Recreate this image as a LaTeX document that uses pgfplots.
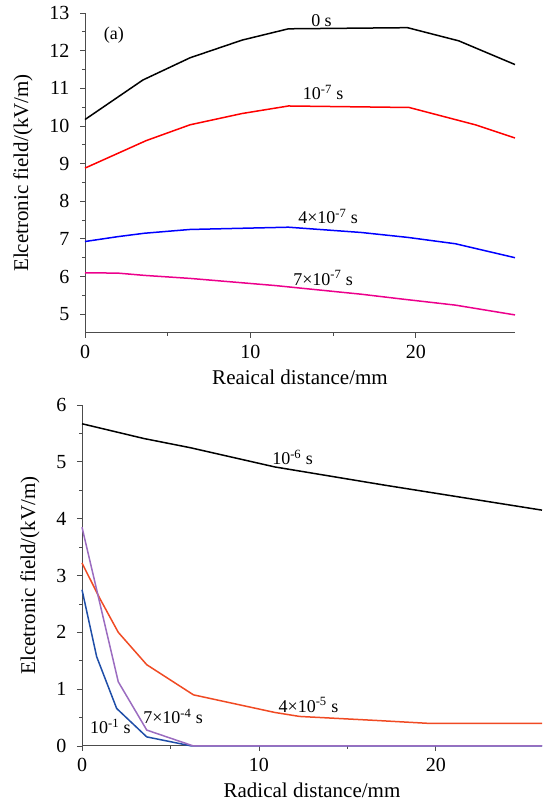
\documentclass[border=0pt]{standalone}
\usepackage{fontspec}
\setmainfont{Liberation Serif}
\usepackage{pgfplots}
\pgfplotsset{compat=1.18}
\definecolor{bred}{HTML}{F04A23}
\definecolor{bpur}{HTML}{9B6CC0}
\definecolor{bblu}{HTML}{1F4EA8}
\pgfplotsset{
  myax/.style={
    scale only axis,
    anchor=south west,
    axis lines*=left,
    axis line style={draw=black!70, line width=1pt},
    tick align=outside,
    tick style={draw=black!70, line width=0.8pt},
    major tick length=5pt,
    minor tick length=3pt,
    minor tick num=1,
    xmin=0, xmax=26,
    xtick={0,10,20},
    /pgf/number format/assume math mode=true,
    ticklabel style={font=\fontsize{20}{22}\selectfont},
    yticklabel style={xshift=-7pt},
    xticklabel style={yshift=-4pt},
    label style={font=\fontsize{21}{24}\selectfont},
    ylabel={Elcetronic field/(kV/m)},
    ylabel style={yshift=10pt},
    xlabel style={yshift=-4pt},
    clip=false,
  },
  every axis plot/.append style={line width=1.5pt, mark=none},
}
\begin{document}
\begin{tikzpicture}[x=1pt,y=1pt]
\useasboundingbox (0,0) rectangle (550,805);
\begin{axis}[myax, at={(85pt,472pt)}, width=430pt, height=320pt,
  ymin=4.5, ymax=13, ytick={5,6,...,13},
  xlabel={Reaical distance/mm}]
\addplot[black] coordinates {(0,10.17) (3.5,11.22) (6.35,11.81) (9.5,12.28) (12.3,12.58) (19.5,12.61) (22.6,12.26) (26,11.63)};
\addplot[red] coordinates {(0,8.88) (3.7,9.61) (6.35,10.03) (9.5,10.33) (12.3,10.53) (19.6,10.49) (23.6,10.03) (26,9.68)};
\addplot[blue] coordinates {(0,6.93) (2,7.06) (3.6,7.15) (6.35,7.25) (12.3,7.31) (16.7,7.17) (19.5,7.04) (22.4,6.87) (26,6.50)};
\addplot[magenta] coordinates {(0,6.10) (2,6.09) (3.6,6.03) (6.35,5.95) (11.5,5.76) (16.7,5.53) (19.2,5.40) (22.4,5.24) (26,4.98)};
\node[font=\fontsize{18}{20}\selectfont] at (axis cs:1.75,12.42) {(a)};
\node[font=\fontsize{18}{20}\selectfont] at (axis cs:14.3,12.81) {0 s};
\node[font=\fontsize{18}{20}\selectfont] at (axis cs:14.4,10.88) {10\textsuperscript{-7} s};
\node[font=\fontsize{18}{20}\selectfont] at (axis cs:14.7,7.59) {4×10\textsuperscript{-7} s};
\node[font=\fontsize{18}{20}\selectfont] at (axis cs:14.4,5.96) {7×10\textsuperscript{-7} s};
\end{axis}
\begin{axis}[myax, at={(82pt,59pt)}, width=460pt, height=341pt,
  ymin=0, ymax=6, ytick={0,1,...,6},
  xlabel={Radical distance/mm}]
\addplot[black] coordinates {(0,5.67) (3.5,5.41) (6.1,5.25) (10.9,4.91) (17.1,4.59) (26,4.15)};
\addplot[bred] coordinates {(0,3.22) (1,2.6) (2.05,2.0) (3.66,1.43) (6.3,0.90) (10.9,0.59) (12.3,0.52) (16.6,0.45) (19.5,0.40) (26,0.40)};
\addplot[bblu] coordinates {(0,2.75) (0.83,1.57) (1.96,0.66) (3.66,0.16) (6.2,0) (26,0)};
\addplot[bpur] coordinates {(0,3.85) (2.05,1.13) (3.66,0.28) (6.3,0) (26,0)};
\node[font=\fontsize{18}{20}\selectfont] at (axis cs:11.9,5.08) {10\textsuperscript{-6} s};
\node[font=\fontsize{18}{20}\selectfont] at (axis cs:12.8,0.72) {4×10\textsuperscript{-5} s};
\node[font=\fontsize{18}{20}\selectfont] at (axis cs:5.15,0.52) {7×10\textsuperscript{-4} s};
\node[font=\fontsize{18}{20}\selectfont] at (axis cs:1.6,0.35) {10\textsuperscript{-1} s};
\end{axis}
\end{tikzpicture}
\end{document}
